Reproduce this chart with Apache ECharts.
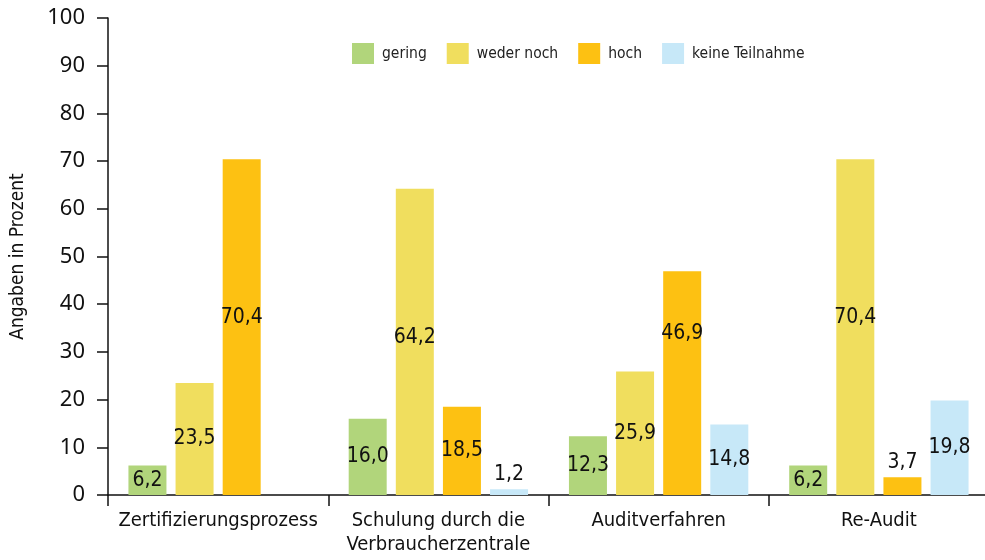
<!DOCTYPE html>
<html>
<head>
<meta charset="utf-8">
<script src="https://cdn.jsdelivr.net/npm/echarts@6/dist/echarts.min.js"></script>
<style>
  html, body { margin: 0; padding: 0; background: #fff; }
  #chart { width: 985px; height: 560px; }
</style>
</head>
<body>
<div id="chart"></div>
<script>
// Kategorien und Werte (Angaben in Prozent)
var categories = ['Zertifizierungsprozess', 'Schulung durch die\nVerbraucherzentrale', 'Auditverfahren', 'Re-Audit'];
var seriesNames = ['gering', 'weder noch', 'hoch', 'keine Teilnahme'];
var gering = [6.2, 16.0, 12.3, 6.2];
var wederNoch = [23.5, 64.2, 25.9, 70.4];
var hoch = [70.4, 18.5, 46.9, 3.7];
var keineTeilnahme = [null, 1.2, 14.8, 19.8];
var yTicks = [0, 10, 20, 30, 40, 50, 60, 70, 80, 90, 100];

var colors = ['#b1d57b', '#f0de5e', '#fdc112', '#c7e8f8'];
var narrow = '"DejaVu Sans Condensed", Roboto, sans-serif';

function fmt(v) {
  return v.toFixed(1).replace('.', ',');
}

function buildSeries(name, values) {
  return {
    name: name,
    type: 'bar',
    barWidth: 38,
    barGap: '24%',
    data: values.map(function (v, i) {
      if (v == null) return '-';
      var item = { value: v };
      if (v < 5) {
        item.label = { position: 'top', distance: 4 };
      } else if (name === 'hoch' && i === 2) {
        // Beschriftung im Original etwas höher gesetzt
        item.label = { position: 'inside', offset: [0, -50] };
      } else if (v > 65) {
        item.label = { position: 'inside', offset: [0, -10] };
      } else if (v > 60) {
        item.label = { position: 'inside', offset: [0, -4] };
      }
      return item;
    }),
    label: {
      show: true,
      position: 'inside',
      color: '#111',
      fontFamily: narrow,
      fontSize: 21,
      formatter: function (p) { return fmt(p.value); }
    }
  };
}

var chart = echarts.init(document.getElementById('chart'));
chart.setOption({
  color: colors,
  animation: false,
  grid: { left: 108, right: -4, top: 18, bottom: 65, containLabel: false, outerBoundsMode: 'none' },
  legend: {
    data: seriesNames,
    left: 347,
    top: 38,
    itemWidth: 22,
    itemHeight: 21,
    itemGap: 20,
    icon: 'rect',
    textStyle: { fontFamily: narrow, fontSize: 15.5, color: '#222', padding: [0, 0, 0, 3] }
  },
  xAxis: {
    type: 'category',
    data: categories,
    axisLine: { lineStyle: { color: '#111', width: 1.5 } },
    axisTick: { show: true, length: 11, interval: 0, alignWithLabel: false, lineStyle: { color: '#111', width: 1.5 } },
    axisLabel: { interval: 0, color: '#111', fontFamily: narrow, fontSize: 20, lineHeight: 24, margin: 14 }
  },
  yAxis: {
    type: 'value',
    min: 0,
    max: 100,
    interval: 10,
    name: 'Angaben in Prozent',
    nameLocation: 'middle',
    nameGap: 80,
    nameTextStyle: { fontFamily: narrow, fontSize: 19, color: '#111' },
    axisLine: { show: true, lineStyle: { color: '#111', width: 1.5 } },
    axisTick: { show: true, length: 11, lineStyle: { color: '#111', width: 1.5 } },
    splitLine: { show: false },
    axisLabel: {
      color: '#111',
      fontFamily: '"Noto Sans", sans-serif',
      fontSize: 22,
      margin: 23,
      formatter: function (v) { return yTicks.indexOf(v) >= 0 ? String(v) : ''; }
    }
  },
  series: [
    buildSeries(seriesNames[0], gering),
    buildSeries(seriesNames[1], wederNoch),
    buildSeries(seriesNames[2], hoch),
    buildSeries(seriesNames[3], keineTeilnahme)
  ]
});
</script>
</body>
</html>
